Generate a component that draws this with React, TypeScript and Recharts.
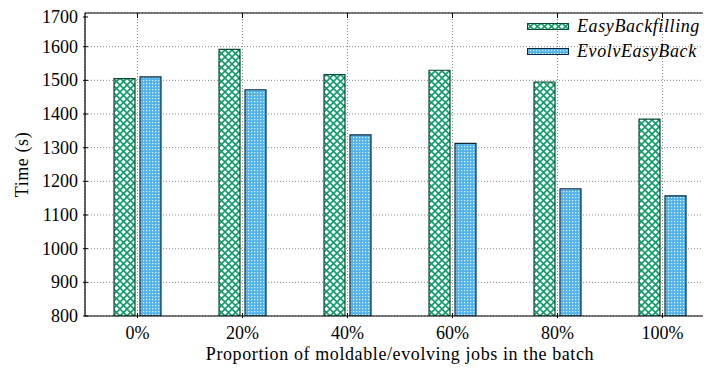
import React from 'react';
import { BarChart, Bar, XAxis, YAxis, CartesianGrid, ReferenceLine } from 'recharts';

const categories = ['0%', '20%', '40%', '60%', '80%', '100%'];
const easyBackfilling = [1505, 1592, 1517, 1530, 1495, 1385];
const evolvEasyBack = [1510, 1472, 1338, 1313, 1178, 1157];
const yTicks = [800, 900, 1000, 1100, 1200, 1300, 1400, 1500, 1600, 1700];

const data = categories.map((c, i) => ({
  cat: c,
  EasyBackfilling: easyBackfilling[i],
  EvolvEasyBack: evolvEasyBack[i],
}));

const txt: React.CSSProperties = { fontFamily: '"Liberation Serif", serif', fontSize: 18 };
const lbl: React.CSSProperties = { ...txt, letterSpacing: 0.6 };
const ital: React.CSSProperties = { ...txt, fontStyle: 'italic', letterSpacing: 0.6 };

const YTick = (props: any) => {
  const { x, y, payload } = props;
  return (
    <g>
      <line x1={x} x2={x + 5} y1={y} y2={y} stroke="#000" strokeWidth={1} />
      <text x={x - 5} y={y} dy={6} textAnchor="end" style={txt} fill="#000">
        {payload.value}
      </text>
    </g>
  );
};

const XTick = (props: any) => {
  const { x, y, payload } = props;
  return (
    <g>
      <line x1={x} x2={x} y1={y} y2={y - 5} stroke="#000" strokeWidth={1} />
      <line x1={x} x2={x} y1={5} y2={10} stroke="#000" strokeWidth={1} />
      <text x={x} y={y} dy={21} textAnchor="middle" style={txt} fill="#000">
        {payload.value}
      </text>
    </g>
  );
};

const YLabel = (props: any) => {
  const { viewBox } = props;
  const cy = viewBox.y + viewBox.height / 2;
  return (
    <text x={14} y={cy} transform={`rotate(-90, 14, ${cy})`} textAnchor="middle" dy={6} style={lbl} fill="#000">
      Time (s)
    </text>
  );
};

const XLabel = (props: any) => {
  const { viewBox } = props;
  const cx = viewBox.x + viewBox.width / 2;
  return (
    <text x={cx} y={352} textAnchor="middle" style={lbl} fill="#000">
      Proportion of moldable/evolving jobs in the batch
    </text>
  );
};

const LegendBox = () => (
  <svg width={200} height={50} style={{ position: 'absolute', left: 519, top: 15, overflow: 'visible' }}>
    <rect x={0.5} y={0.5} width={41} height={6} fill="url(#greenHatch)" stroke="#0b4a32" strokeWidth={1} />
    <text x={50} y={9} style={ital} fill="#000">EasyBackfilling</text>
    <rect x={0.5} y={25.5} width={41} height={6} fill="url(#blueDots)" stroke="#0b2a40" strokeWidth={1} />
    <text x={50} y={34} style={ital} fill="#000">EvolvEasyBack</text>
  </svg>
);

export default function App() {
  return (
    <div style={{ width: 703, height: 363, overflow: 'hidden', position: 'relative' }}>
      <svg width={0} height={0} style={{ position: 'absolute' }}>
        <defs>
          <pattern id="greenHatch" patternUnits="userSpaceOnUse" width={7} height={7}>
            <rect width={7} height={7} fill="#fff" />
            <path d="M0,0 L7,7 M7,0 L0,7" stroke="#0f9e68" strokeWidth={1.6} />
          </pattern>
          <pattern id="blueDots" patternUnits="userSpaceOnUse" width={3} height={3}>
            <rect width={3} height={3} fill="#52b2ea" />
            <rect x={0} y={0} width={1.2} height={1.2} fill="#e6f4fc" />
          </pattern>
        </defs>
      </svg>
      <BarChart
        width={720}
        height={363}
        data={data}
        margin={{ top: 5, right: 13, left: 0, bottom: 25 }}
        barSize={21}
        barGap={5}
      >
        <CartesianGrid stroke="#888" strokeDasharray="1 2" />
        <XAxis
          dataKey="cat"
          height={30}
          tick={<XTick />}
          tickLine={false}
          tickSize={0}
          axisLine={{ stroke: '#000', strokeWidth: 1.2 }}
          interval={0}
          label={<XLabel />}
        />
        <YAxis
          width={77}
          domain={[800, 1700]}
          ticks={yTicks}
          allowDataOverflow
          tick={<YTick />}
          tickLine={false}
          tickSize={0}
          axisLine={{ stroke: '#000', strokeWidth: 1.2 }}
          label={<YLabel />}
        />
        <ReferenceLine y={1700} stroke="#000" strokeWidth={1.2} />
        <Bar dataKey="EasyBackfilling" fill="url(#greenHatch)" stroke="#0b4a32" strokeWidth={1.2} isAnimationActive={false} />
        <Bar dataKey="EvolvEasyBack" fill="url(#blueDots)" stroke="#0b2a40" strokeWidth={1.2} isAnimationActive={false} />
      </BarChart>
      <LegendBox />
    </div>
  );
}
